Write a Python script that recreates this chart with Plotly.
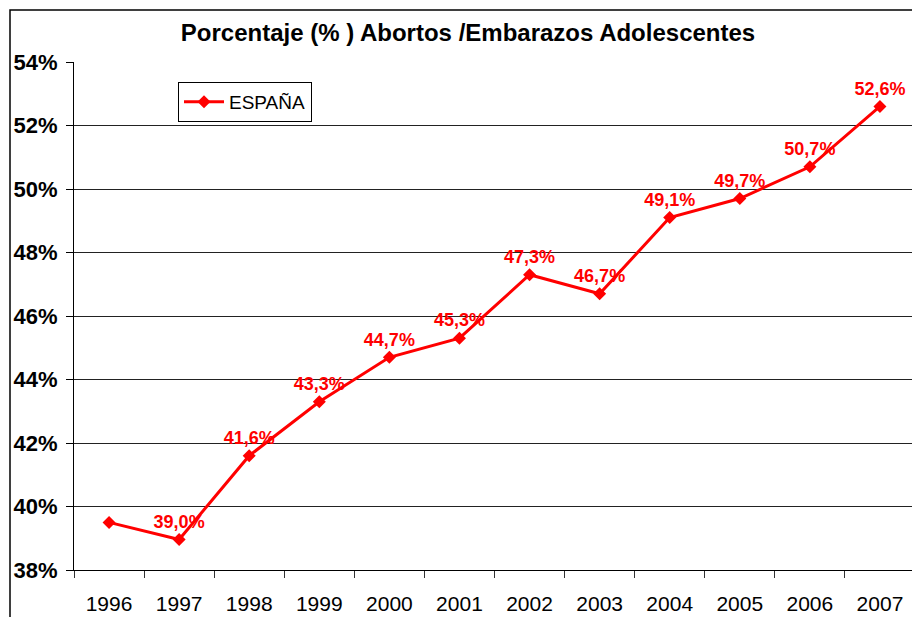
import plotly.graph_objects as go

years = ["1996", "1997", "1998", "1999", "2000", "2001", "2002", "2003", "2004", "2005", "2006", "2007"]
espana = [39.5, 38.96, 41.6, 43.3, 44.7, 45.3, 47.3, 46.7, 49.1, 49.7, 50.7, 52.6]
labels = ["", "39,0%", "41,6%", "43,3%", "44,7%", "45,3%", "47,3%", "46,7%", "49,1%", "49,7%", "50,7%", "52,6%"]
y_ticks = [38, 40, 42, 44, 46, 48, 50, 52, 54]
y_ticktext = ["38%", "40%", "42%", "44%", "46%", "48%", "50%", "52%", "54%"]

# page body has an 8px margin: work in figure coords = pixel - 8
OFF = 8
W, H = 920 - OFF, 617 - OFF
L, R, T, B = 74 - OFF, W - (915 - OFF), 62 - OFF, H - (570 - OFF)
pw, ph = W - L - R, H - T - B

fig = go.Figure()
fig.add_trace(go.Scatter(
    x=years, y=espana, mode="lines+markers+text", name="ESPAÑA",
    line=dict(color="#FF0000", width=3),
    marker=dict(symbol="diamond", size=10, color="#FF0000"),
    text=labels, textposition="top center",
    textfont=dict(family="Liberation Sans, Arial", size=18, color="#FF0000", weight="bold"),
    cliponaxis=False,
))

fig.update_layout(
    width=W, height=H,
    margin=dict(l=L, r=R, t=T, b=B, autoexpand=False),
    paper_bgcolor="white", plot_bgcolor="white",
    font=dict(family="Liberation Sans, Arial", color="black"),
    title=dict(text="<b>Porcentaje (% ) Abortos /Embarazos Adolescentes</b>",
               x=(468 - OFF) / W, xanchor="center", y=1 - (33 - OFF) / H, yanchor="middle",
               font=dict(size=24, color="black")),
    showlegend=True,
    legend=dict(x=(178 - OFF - L) / pw, y=1 - (82 - OFF - T) / ph, xanchor="left", yanchor="top",
                bordercolor="black", borderwidth=1, bgcolor="white",
                font=dict(size=19, color="black"),
                itemwidth=40, tracegroupgap=0),
    xaxis=dict(type="category", tickson="boundaries", ticks="outside", ticklen=7,
               tickcolor="#333", showgrid=False, showline=True, linecolor="black",
               linewidth=1, tickfont=dict(size=21, color="black"),
               ticklabelstandoff=15, range=[-0.5, 11.5], automargin=False),
    yaxis=dict(range=[38, 54], tickvals=y_ticks, ticktext=y_ticktext,
               ticks="outside", ticklen=7, tickcolor="black",
               showgrid=True, gridcolor="#222", gridwidth=1,
               showline=True, linecolor="black", linewidth=1,
               tickfont=dict(size=22, color="black", weight="bold"),
               ticklabelstandoff=4, zeroline=False, automargin=False),
    shapes=[dict(type="rect", xref="paper", yref="paper",
                 x0=(10 - OFF - L) / pw, x1=1.2, y0=-0.3, y1=1 + (T - (10 - OFF)) / ph,
                 line=dict(color="black", width=1.5), fillcolor="rgba(0,0,0,0)",
                 layer="below")],
)

fig.write_html("out.html")
